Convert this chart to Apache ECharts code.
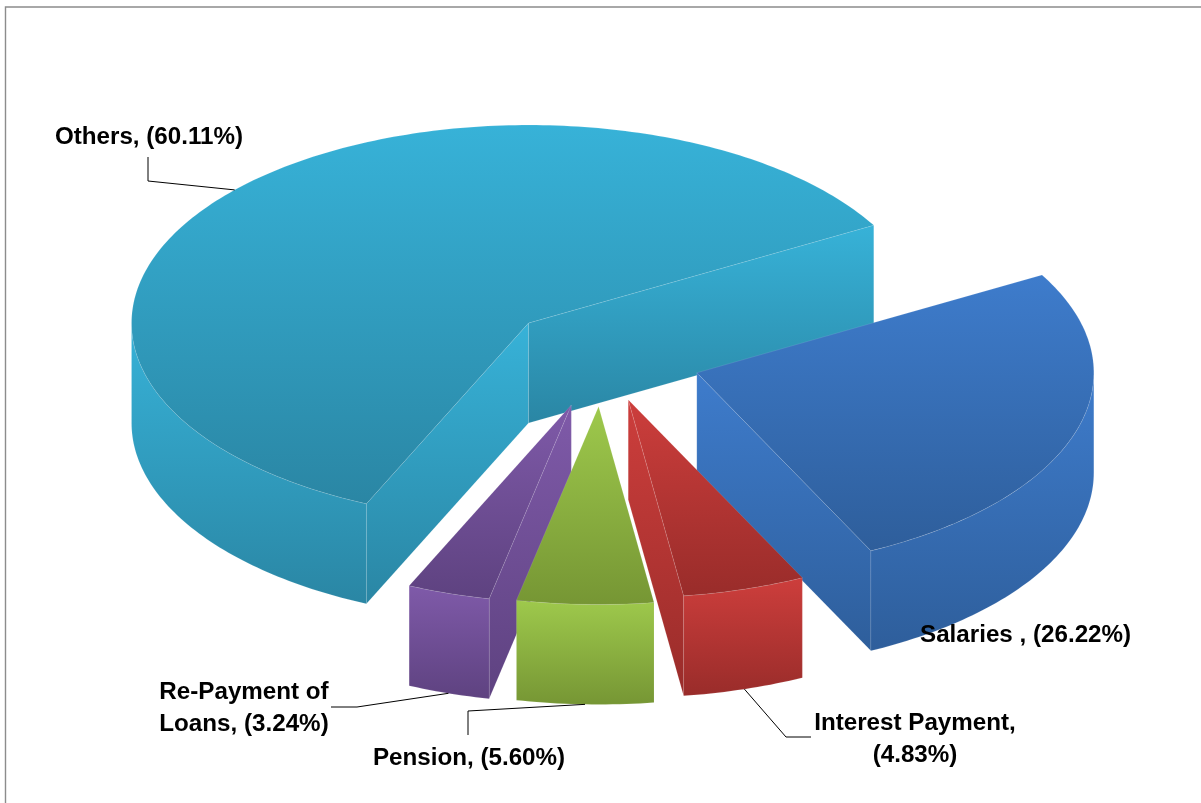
<!DOCTYPE html>
<html>
<head>
<meta charset="utf-8">
<title>Expenditure shares</title>
<script src="https://cdn.jsdelivr.net/npm/echarts@6/dist/echarts.min.js"></script>
<style>
html, body { margin: 0; padding: 0; background: #fff; }
#main-window { width: 1201px; height: 803px; }
</style>
</head>
<body>
<div id="main-window"></div>
<script>
// chart data, clockwise from the back right edge
var sliceNames = ['Salaries ', 'Interest Payment', 'Pension', 'Re-Payment of\nLoans', 'Others'];
var sliceShares = [26.22, 4.83, 5.60, 3.24, 60.11];
var labelBreaks = [' ', '\n', ' ', ' ', ' '];

// drawing of the tilted pie
var pieCenter = [602, 357];
var radiusX = 397;
var radiusY = 198;
var pieDepth = 100;
var startAngle = -30;
var edgeNudges = [0.4, -0.4, 0.2, 0, 0.5];
var explodesX = [0.25, 0.226, 0.25, 0.25, 0.25];
var explodesY = [0.27, 0.226, 0.25, 0.255, 0.255];
var sliceColors = [
	['#3e7ccc', '#2e5e9b'],
	['#cd3e3c', '#992c2a'],
	['#9ec94c', '#769634'],
	['#7f5aa9', '#5e4280'],
	['#37b2d8', '#2a86a4']
];

// label places, leader lines run from the slice rim through these elbows
var labelPlaces = [
	{ x: 920, y: 635, align: 'left', elbows: null },
	{ x: 915, y: 739, align: 'center', elbows: [[786, 737], [811, 737]] },
	{ x: 469, y: 758, align: 'center', elbows: [[468, 711], [468, 735]] },
	{ x: 244, y: 708, align: 'center', elbows: [[357, 707], [331, 707]] },
	{ x: 149, y: 137, align: 'center', elbows: [[148, 181], [148, 157]] }
];

// edge angle of every slice, the last one closes the circle
var sliceEdges = [];
var angleSum = startAngle;
for (var i = 0; i < sliceShares.length; i++) {
	sliceEdges.push(angleSum + edgeNudges[i]);
	angleSum += sliceShares[i] / 100 * 360;
}
sliceEdges.push(sliceEdges[0] + 360);

function rimPoint(cx, cy, deg, drop) {
	var r = deg * Math.PI / 180;
	return [cx + radiusX * Math.cos(r), cy + radiusY * Math.sin(r) + drop];
}

function faceGradient(colors) {
	return {
		type: 'linear', x: 0, y: 0, x2: 0, y2: 1,
		colorStops: [{ offset: 0, color: colors[0] }, { offset: 1, color: colors[1] }]
	};
}

function face(points, colors, z) {
	return {
		type: 'polygon',
		z2: z,
		shape: { points: points },
		style: { fill: faceGradient(colors), stroke: 'rgba(255,255,255,0.2)', lineWidth: 0.5 }
	};
}

// one cut wall, from the centre out to the rim at deg
function cutWall(cx, cy, deg, colors, z) {
	var p = rimPoint(cx, cy, deg, 0);
	return face([[cx, cy], p, [p[0], p[1] + pieDepth], [cx, cy + pieDepth]], colors, z);
}

// outer wall, only the part of the rim that is on the front half
function outerWall(cx, cy, a, b, colors, z) {
	var from = Math.max(a, 0);
	var to = Math.min(b, 180);
	if (to <= from) return null;
	var top = [];
	var bottom = [];
	for (var d = from; d < to; d += 1) {
		top.push(rimPoint(cx, cy, d, 0));
		bottom.unshift(rimPoint(cx, cy, d, pieDepth));
	}
	top.push(rimPoint(cx, cy, to, 0));
	bottom.unshift(rimPoint(cx, cy, to, pieDepth));
	return face(top.concat(bottom), colors, z);
}

function renderSlice(params, api) {
	var idx = params.dataIndex;
	var share = api.value(0);
	var a = sliceEdges[idx];
	var b = sliceEdges[idx + 1];
	var mid = (a + b) / 2;
	var midRad = mid * Math.PI / 180;
	var cx = pieCenter[0] + explodesX[idx] * radiusX * Math.cos(midRad);
	var cy = pieCenter[1] + explodesY[idx] * radiusY * Math.sin(midRad);
	var colors = sliceColors[idx];
	// slices nearer the viewer sit on top
	var z = Math.round((Math.sin(midRad) + 1) * 100);
	var children = [];

	if (Math.cos(a * Math.PI / 180) < 0) children.push(cutWall(cx, cy, a, colors, z));
	if (Math.cos(b * Math.PI / 180) > 0) children.push(cutWall(cx, cy, b, colors, z));
	var wall = outerWall(cx, cy, a, b, colors, z);
	if (wall) children.push(wall);

	var topPoints = [[cx, cy]];
	for (var d = a; d < b; d += 1) topPoints.push(rimPoint(cx, cy, d, 0));
	topPoints.push(rimPoint(cx, cy, b, 0));
	children.push(face(topPoints, colors, z + 1));

	var place = labelPlaces[idx];
	if (place.elbows) {
		var anchor = rimPoint(cx, cy, mid, Math.sin(midRad) > 0 ? pieDepth : 0);
		children.push({
			type: 'polyline',
			z2: 500,
			shape: { points: [anchor].concat(place.elbows) },
			style: { fill: null, stroke: '#000', lineWidth: 1 }
		});
	}
	children.push({
		type: 'text',
		z2: 501,
		style: {
			x: place.x,
			y: place.y,
			text: sliceNames[idx] + ',' + labelBreaks[idx] + '(' + share.toFixed(2) + '%)',
			font: 'bold 24.2px "Liberation Sans", Arial, sans-serif',
			lineHeight: 32,
			fill: '#000',
			align: place.align,
			verticalAlign: 'middle'
		}
	});
	return { type: 'group', children: children };
}

var myChart = echarts.init(document.getElementById('main-window'));
myChart.setOption({
	backgroundColor: '#fff',
	animation: false,
	graphic: [{
		type: 'polyline',
		silent: true,
		shape: { points: [[5.5, 803], [5.5, 7], [1201, 7]] },
		style: { fill: null, stroke: '#8c8c8c', lineWidth: 1.4 }
	}],
	series: [{
		type: 'custom',
		coordinateSystem: 'none',
		silent: true,
		renderItem: renderSlice,
		data: sliceShares.map(function (v, i) { return { name: sliceNames[i], value: [v] }; })
	}]
});
</script>
</body>
</html>
